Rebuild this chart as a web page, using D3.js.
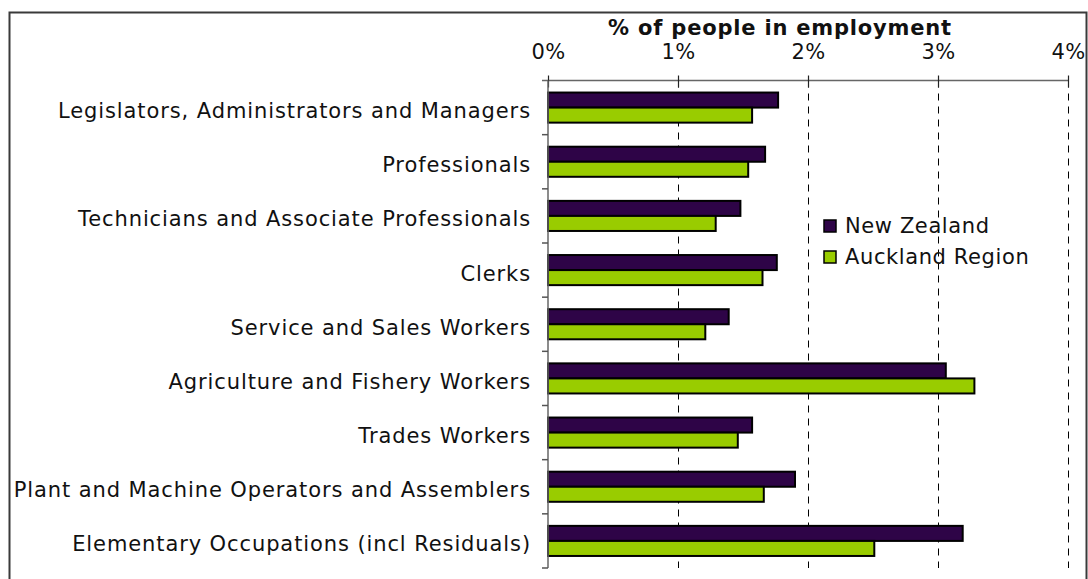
<!DOCTYPE html>
<html>
<head>
<meta charset="utf-8">
<script src="https://cdn.jsdelivr.net/npm/d3@7"></script>
<style>
  html, body { margin: 0; padding: 0; background: #fff; }
  svg { display: block; font-family: "DejaVu Sans", Verdana, sans-serif; }
</style>
</head>
<body>
<svg id="chart" width="1088" height="579"></svg>
<script>
// Occupation groups, top to bottom
const categories = [
  "Legislators, Administrators and Managers",
  "Professionals",
  "Technicians and Associate Professionals",
  "Clerks",
  "Service and Sales Workers",
  "Agriculture and Fishery Workers",
  "Trades Workers",
  "Plant and Machine Operators and Assemblers",
  "Elementary Occupations (incl Residuals)"
];

// % of people in employment
const newZealand     = [1.77, 1.67, 1.48, 1.76, 1.39, 3.06, 1.57, 1.90, 3.19];
const aucklandRegion = [1.57, 1.54, 1.29, 1.65, 1.21, 3.28, 1.46, 1.66, 2.51];

const seriesNames = ["New Zealand", "Auckland Region"];
const seriesColors = ["#2E0447", "#99CC00"];

const tickValues = [0, 1, 2, 3, 4];
const tickLabels = ["0%", "1%", "2%", "3%", "4%"];

const svg = d3.select("#chart");

// Outer frame
svg.append("rect")
  .attr("x", 9.5).attr("y", 12.5)
  .attr("width", 1077).attr("height", 600)
  .attr("fill", "none")
  .attr("stroke", "#3a3a3a")
  .attr("stroke-width", 2);

const plot = { left: 548, right: 1068, top: 80.5, bottom: 568 };

const x = d3.scaleLinear().domain([0, 4]).range([plot.left, plot.right]);
const y = d3.scaleBand().domain(categories).range([plot.top, plot.bottom]);
const ySub = d3.scaleBand().domain(seriesNames)
  .range([0, y.bandwidth()]).paddingInner(0).paddingOuter(0.8);

// Dashed vertical gridlines
svg.append("g")
  .selectAll("line")
  .data(tickValues.filter(v => v > 0))
  .join("line")
  .attr("x1", d => Math.round(x(d)) + 0.5)
  .attr("x2", d => Math.round(x(d)) + 0.5)
  .attr("y1", plot.top)
  .attr("y2", plot.bottom)
  .attr("stroke", "#000")
  .attr("stroke-width", 1)
  .attr("stroke-dasharray", "7,6");

// Bars
const rows = categories.map((c, i) => ({
  cat: c,
  values: [newZealand[i], aucklandRegion[i]]
}));

const groups = svg.append("g")
  .selectAll("g")
  .data(rows)
  .join("g")
  .attr("transform", d => `translate(0,${y(d.cat)})`);

groups.selectAll("rect")
  .data(d => d.values.map((v, j) => ({ v, j })))
  .join("rect")
  .attr("x", x(0))
  .attr("y", d => ySub(seriesNames[d.j]))
  .attr("width", d => x(d.v) - x(0))
  .attr("height", ySub.bandwidth())
  .attr("fill", d => seriesColors[d.j])
  .attr("stroke", "#000")
  .attr("stroke-width", 2);

// Top value axis
const xAxis = d3.axisTop(x)
  .tickValues(tickValues)
  .tickFormat((d, i) => tickLabels[i])
  .tickSizeInner(0)
  .tickSizeOuter(0);

const xg = svg.append("g")
  .attr("transform", `translate(0,${plot.top})`)
  .call(xAxis);
xg.select(".domain").attr("stroke", "#666").attr("stroke-width", 1.5)
  .attr("d", `M${plot.left - 6},0H${plot.right}`);
xg.selectAll(".tick text")
  .attr("y", -22)
  .attr("font-size", 21)
  .attr("letter-spacing", "0.3px")
  .attr("font-family", "DejaVu Sans, Verdana, sans-serif")
  .attr("fill", "#111");
// cross tick marks
xg.selectAll(".tick").append("line")
  .attr("y1", -5).attr("y2", 7)
  .attr("stroke", "#222").attr("stroke-width", 1.2);

// Left category axis
const yAxis = d3.axisLeft(y).tickSize(0).tickPadding(17);
const yg = svg.append("g")
  .attr("transform", `translate(${plot.left},0)`)
  .call(yAxis);
yg.select(".domain").attr("stroke", "#666").attr("stroke-width", 1.5)
  .attr("d", `M0,${plot.top}V${plot.bottom}`);
yg.selectAll(".tick text")
  .attr("font-size", 21)
  .attr("letter-spacing", "0.9px")
  .attr("font-family", "DejaVu Sans, Verdana, sans-serif")
  .attr("fill", "#111")
  .attr("dy", "0.5em");

// category boundary ticks
svg.append("g")
  .selectAll("line")
  .data(categories)
  .join("line")
  .attr("x1", plot.left - 6).attr("x2", plot.left)
  .attr("y1", d => y(d) + y.bandwidth())
  .attr("y2", d => y(d) + y.bandwidth())
  .attr("stroke", "#555").attr("stroke-width", 1.5);

// Axis title
svg.append("text")
  .attr("x", 780).attr("y", 35)
  .attr("text-anchor", "middle")
  .attr("font-size", 21)
  .attr("letter-spacing", "0.8px")
  .attr("font-weight", "bold")
  .attr("fill", "#111")
  .text("% of people in employment");

// Legend
const legend = svg.append("g").attr("transform", "translate(824,220)");
const li = legend.selectAll("g")
  .data(seriesNames)
  .join("g")
  .attr("transform", (d, i) => `translate(0,${i * 31})`);
li.append("rect")
  .attr("width", 12).attr("height", 12)
  .attr("fill", (d, i) => seriesColors[i])
  .attr("stroke", "#000").attr("stroke-width", 1.5);
li.append("text")
  .attr("x", 21).attr("y", 13)
  .attr("font-size", 21)
  .attr("letter-spacing", "0.6px")
  .attr("fill", "#111")
  .text(d => d);
</script>
</body>
</html>
